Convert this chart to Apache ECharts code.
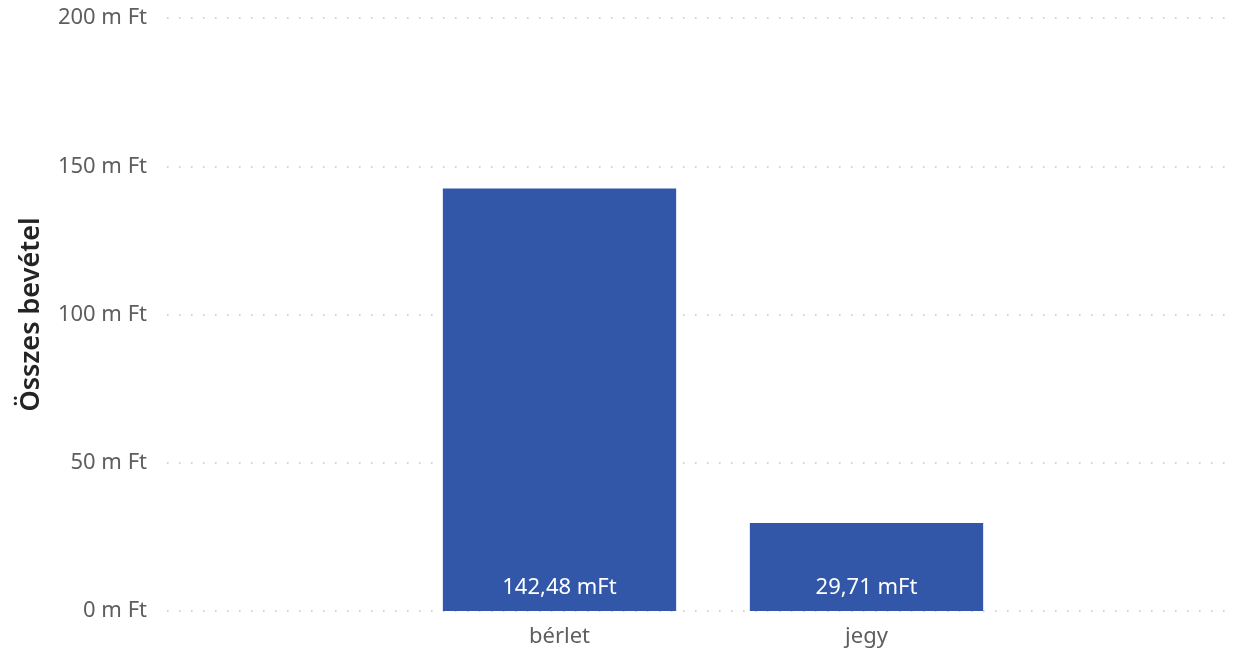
<!DOCTYPE html>
<html>
<head>
<meta charset="utf-8">
<script src="https://cdn.jsdelivr.net/npm/echarts@6/dist/echarts.min.js"></script>
<style>html,body{margin:0;padding:0;background:#fff;}#c{width:1246px;height:651px;}</style>
</head>
<body>
<div id="c"></div>
<script>
const categories = ['bérlet', 'jegy'];
const revenue = [142.48, 29.71];
const yTicks = [0, 50, 100, 150, 200];
const axisTitle = 'Összes bevétel';

const font = '"Noto Sans", "Open Sans", sans-serif';
const chart = echarts.init(document.getElementById('c'));
const fmtLabel = v => v.toFixed(2).replace('.', ',') + ' mFt';
chart.setOption({
  animation: false,
  grid: [
    { left: 167, right: 11, top: 18, bottom: 40, containLabel: false },
    { left: 406, right: 226, top: 18, bottom: 40, containLabel: false }
  ],
  xAxis: [
    { gridIndex: 0, type: 'category', data: categories, show: false },
    { gridIndex: 1, type: 'category', data: categories,
      axisLine: { show: false }, axisTick: { show: false },
      axisLabel: { color: '#605E5C', fontSize: 22, fontFamily: font, margin: 15 } }
  ],
  yAxis: [
    { gridIndex: 0, type: 'value', min: yTicks[0], max: yTicks[yTicks.length - 1], interval: 50,
      name: axisTitle, nameLocation: 'middle', nameGap: 122, nameRotate: 90, nameMoveOverlap: false,
      nameTextStyle: { color: '#252423', fontSize: 27, fontWeight: 600, fontFamily: '"Noto Sans", sans-serif' },
      axisLine: { show: false }, axisTick: { show: false },
      axisLabel: { color: '#605E5C', fontSize: 22, fontFamily: font, margin: 20, formatter: v => v + ' m Ft' },
      splitLine: { show: true, lineStyle: { color: '#C4C4C4', width: 1.5, type: [1.5, 10.5] } } },
    { gridIndex: 1, type: 'value', min: yTicks[0], max: yTicks[yTicks.length - 1], interval: 50, show: false,
      splitLine: { show: false } }
  ],
  series: [{
    type: 'bar', xAxisIndex: 1, yAxisIndex: 1, data: revenue,
    barCategoryGap: '24%',
    itemStyle: { color: '#3257A8' },
    label: { show: true, position: 'insideBottom', distance: 12, color: '#fff', fontSize: 22, fontFamily: font,
      formatter: p => fmtLabel(p.value) }
  }]
});
</script>
</body>
</html>
